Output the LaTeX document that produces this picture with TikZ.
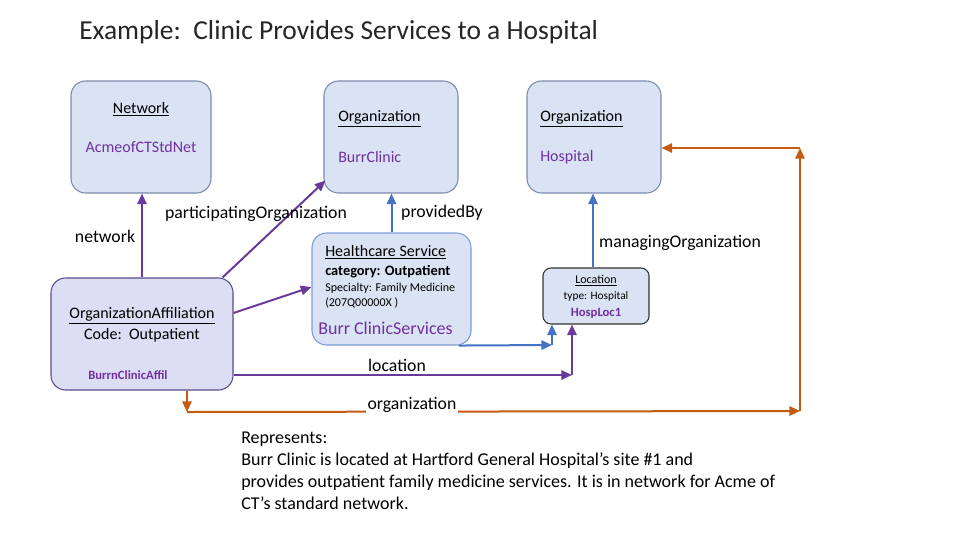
\documentclass[tikz,border=0pt]{standalone}
\usepackage{fontspec}
\setmainfont{Carlito}
\usepackage{xcolor}
\usetikzlibrary{arrows.meta}
\usetikzlibrary{calc}
\usetikzlibrary{positioning}

\definecolor{boxfill}{HTML}{DAE3F3}
\definecolor{affilfill}{HTML}{DCDEF4}
\definecolor{boxline}{HTML}{7A8BAA}
\definecolor{affilline}{HTML}{5E4B8C}
\definecolor{purptext}{HTML}{7030A0}
\definecolor{purpline}{HTML}{6A3A9A}
\definecolor{blueline}{HTML}{4472C4}
\definecolor{orangeline}{HTML}{C55A11}

\begin{document}
\begin{tikzpicture}[x=0.75pt,y=-0.75pt,
    >={Triangle[length=8pt,width=7pt]},
    resource/.style={draw=boxline, fill=boxfill, rounded corners=11pt, line width=0.8pt, inner sep=0pt},
    boxtext/.style={inner sep=0pt, font=\fontsize{12}{14}\selectfont},
    purptxt/.style={boxtext, text=purptext},
    linklabel/.style={inner sep=1pt, font=\fontsize{13.3}{16}\selectfont},
    reptext/.style={anchor=base west, inner sep=0pt, font=\fontsize{13.5}{16}\selectfont},
    partof/.style={->, purpline, line width=1.5pt},
    service/.style={->, blueline, line width=1.5pt},
    orgline/.style={->, orangeline, line width=1.5pt}]
      \useasboundingbox (0,0) rectangle (960,540);

      \node[anchor=west, inner sep=0pt, font=\fontsize{20.6}{24}\selectfont, text=black!85] (title) at (79,32) {Example:\ \ Clinic Provides Services to a Hospital};

      % resources
      \node[resource, minimum width=105pt, minimum height=84pt] (net) at (141,137) {};
      \node[resource, minimum width=100.5pt, minimum height=84pt] (burr) at (391,137) {};
      \node[resource, minimum width=100.5pt, minimum height=84pt] (hosp) at (594,137) {};
      \node[resource, draw=blueline!70, minimum width=119.25pt, minimum height=84pt] (hs) at (391.5,289) {};
      \node[resource, draw=black!80, rounded corners=6pt, minimum width=79.5pt, minimum height=42pt] (loc) at (596,296) {};
      \node[resource, draw=affilline, fill=affilfill, minimum width=136.5pt, minimum height=84pt] (affil) at (142,334) {};

      \node[boxtext] (nettype) at (141,109) {\underline{Network}};
      \node[purptxt] (netname) at (141,147) {AcmeofCTStdNet};
      \node[boxtext, anchor=west] (burrtype) at (338,119) {\underline{Organization}};
      \node[purptxt, anchor=west] (burrname) at (338,157) {BurrClinic};
      \node[boxtext, anchor=west] (hosptype) at (540,119) {\underline{Organization}};
      \node[purptxt, anchor=west] (hospname) at (540,157) {Hospital};

      \node[boxtext, anchor=west] (hstype) at (325,252) {\underline{Healthcare Service}};
      \node[boxtext, anchor=west, font=\fontsize{10.8}{12}\selectfont\bfseries] (hscat) at (325,272) {category: Outpatient};
      \node[boxtext, anchor=west, font=\fontsize{9}{11}\selectfont] (hsspec) at (325,288) {Specialty: Family Medicine};
      \node[boxtext, anchor=west, font=\fontsize{9}{11}\selectfont] (hscode) at (325,303) {(207Q00000X )};
      \node[purptxt, anchor=west, font=\fontsize{13.5}{16}\selectfont] (hsname) at (318,328) {Burr ClinicServices};

      \node[boxtext, font=\fontsize{9}{11}\selectfont] (loctype) at (596,281) {\underline{Location}};
      \node[boxtext, font=\fontsize{8.5}{10}\selectfont] (lockind) at (596,296) {type: Hospital};
      \node[purptxt, font=\fontsize{9.5}{11}\selectfont\bfseries] (locname) at (596,313) {HospLoc1};

      \node[boxtext] (affiltype) at (142,316) {\underline{OrganizationAffiliation}};
      \node[boxtext] (affilcode) at (142,335) {Code:\ \ Outpatient};
      \node[purptxt, anchor=west, font=\fontsize{9.5}{11}\selectfont\bfseries] (affilname) at (88,375) {BurrnClinicAffil};

      % connectors
      \coordinate (svccorner) at (552,345);
      \coordinate (loccorner) at (572,375);
      \coordinate (orgA) at (187,412);
      \coordinate (orgB) at (800,411);
      \coordinate (orgC) at (800,148);

      \draw[partof] (affil.north) -- (affil.north |- net.south);
      \draw[partof] ($(affil.north east)+(-11,0)$) -- ($(burr.south west)+(2,-13)$);
      \draw[partof] ($(affil.east)+(0,-21)$) -- ($(hs.west)+(0,-2)$);
      \draw[partof] ($(affil.east)+(0,41)$) -- (loccorner);
      \draw[partof] (loccorner) -- (loc.south west -| loccorner);

      \draw[service] (hs.north) -- (hs.north |- burr.south);
      \draw[service] ($(hs.south east)+(-13,0)$) -- (svccorner);
      \draw[service] (svccorner) -- (loc.south west -| svccorner);
      \draw[service] ($(loc.north)+(-3,0)$) -- ($(loc.north |- hosp.south)+(-3,0)$);

      \draw[orgline] ($(affil.south)+(45,0)$) -- (orgA);
      \draw[orgline] (orgA) -- (orgB);
      \draw[orgline] (orgB) -- (orgC);
      \draw[orgline] (orgC) -- (hosp.east |- orgC);

      % link labels
      \node[linklabel] (netlbl) at (105,236) {network};
      \node[linklabel] (partlbl) at (256,214) {participatingOrganization};
      \node[linklabel] (provlbl) at (442,213) {providedBy};
      \node[linklabel] (mgrlbl) at (680,243) {managingOrganization};
      \node[linklabel] (loclbl) at (397,365) {location};
      \node[linklabel, fill=white] (orglbl) at (412,405) {organization};

      \node[reptext] (rep1) at (241,443) {Represents:};
      \node[reptext] (rep2) at (241,465) {Burr Clinic is located at Hartford General Hospital’s site \#1 and};
      \node[reptext] (rep3) at (241,487) {provides outpatient family medicine services. It is in network for Acme of};
      \node[reptext] (rep4) at (241,509) {CT’s standard network.};
\end{tikzpicture}
\end{document}
